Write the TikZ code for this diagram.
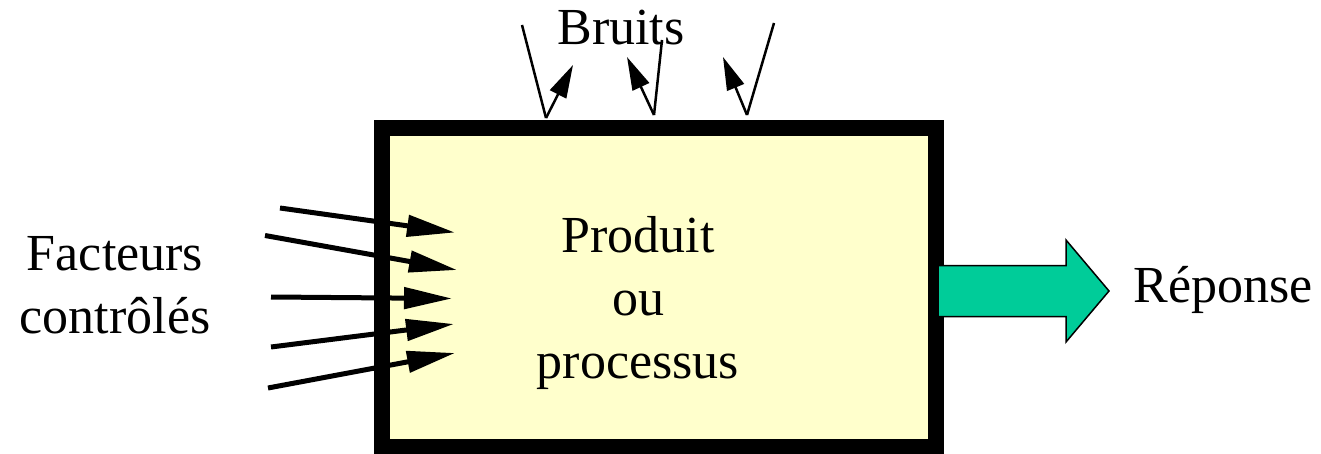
\documentclass[tikz,border=0pt]{standalone}
\usepackage{fontspec}
\setmainfont{Liberation Serif}
\usetikzlibrary{arrows.meta}
\definecolor{boxyellow}{HTML}{FFFFCC}
\definecolor{respgreen}{HTML}{00CC99}
\begin{document}
\begin{tikzpicture}[x=1pt,y=-1pt,
  lbl/.style={font=\fontsize{52}{63}\selectfont, inner sep=0pt, align=center},
  factarrow/.style={line width=5pt, -{Triangle[length=48pt,width=21pt]}},
  noisearrow/.style={line width=2.5pt, -{Triangle[length=33pt,width=18pt]}},
  noiseline/.style={line width=2.5pt},
  resparrow/.style={fill=respgreen, draw=black, line width=1.5pt, line join=miter},
  procbox/.style={draw, line width=16pt, fill=boxyellow, minimum width=554pt, minimum height=319pt, inner sep=0pt}
]
\useasboundingbox (0,0) rectangle (1321,454);

% process box
\node[procbox] (box) at (659,287.5) {};
\node[lbl] (prod) at (638,303) {Produit\\ou\\processus};

% response arrow
\path (box.east) ++(-6,3.5) coordinate (gs);
\draw[resparrow] (gs) ++(0,-25.5) -- ++(128,0) -- ++(0,-25.5) -- ++(43,51) -- ++(-43,51) -- ++(0,-25.5) -- ++(-128,0) -- cycle;
\node[lbl, anchor=base] (rep) at (1223,302) {Réponse};

% controlled factors
\coordinate (f1s) at (280,208);   \coordinate (f1e) at (455,232.5);
\coordinate (f2s) at (265,235.5); \coordinate (f2e) at (457,270);
\coordinate (f3s) at (271,297);   \coordinate (f3e) at (452,298.5);
\coordinate (f4s) at (271,347);   \coordinate (f4e) at (454,324);
\coordinate (f5s) at (268,388);   \coordinate (f5e) at (455,353);
\draw[factarrow] (f1s) -- (f1e);
\draw[factarrow] (f2s) -- (f2e);
\draw[factarrow] (f3s) -- (f3e);
\draw[factarrow] (f4s) -- (f4e);
\draw[factarrow] (f5s) -- (f5e);
\node[lbl] (fact) at (115,285.7) {Facteurs\\contrôlés};

% noise
\coordinate (n1t) at (522,25);  \coordinate (n1b) at (546,118); \coordinate (n1h) at (573,65);
\coordinate (n2t) at (662,40);  \coordinate (n2b) at (654,115); \coordinate (n2h) at (627,57);
\coordinate (n3t) at (774,23);  \coordinate (n3b) at (747,115); \coordinate (n3h) at (723,57);
\draw[noiseline] (n1t) -- (n1b);
\draw[noisearrow] (n1b) -- (n1h);
\draw[noiseline] (n2t) -- (n2b);
\draw[noisearrow] (n2b) -- (n2h);
\draw[noiseline] (n3t) -- (n3b);
\draw[noisearrow] (n3b) -- (n3h);
\node[lbl, anchor=base] (bruits) at (621,45) {Bruits};
\end{tikzpicture}
\end{document}
